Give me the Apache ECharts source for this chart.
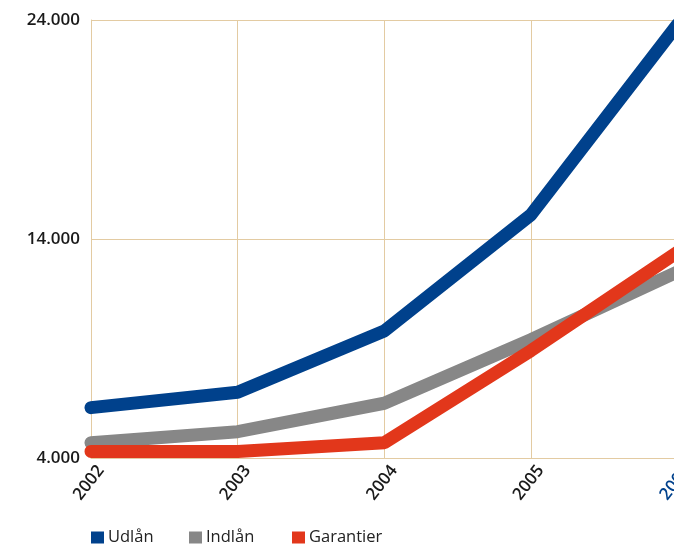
<!DOCTYPE html>
<html>
<head>
<meta charset="utf-8">
<script src="https://cdn.jsdelivr.net/npm/echarts@6/dist/echarts.min.js"></script>
<style>
html,body{margin:0;padding:0;background:#fff;overflow:hidden;width:674px;height:548px;}
#chart{width:678px;height:548px;}
</style>
</head>
<body>
<div id="chart"></div>
<script>
var categories = ['2002', '2003', '2004', '2005', '2006'];
var udlan = [6300, 7000, 9800, 15100, 23800];
var indlan = [4700, 5200, 6500, 9400, 12500];
var garantier = [4300, 4300, 4700, 8900, 13400];
var seriesNames = ['Udlån', 'Indlån', 'Garantier'];
var yTicks = [4000, 14000, 24000];

var BLUE = '#00418c', GRAY = '#878787', RED = '#e2371b', GRID = '#e3cba2';
var FONT = '"Open Sans", sans-serif';

var chart = echarts.init(document.getElementById('chart'), null, {renderer: 'canvas'});

function legendFor(name, left) {
  return {
    left: left, top: 529, padding: 0, data: [name], icon: 'rect',
    itemWidth: 13, itemHeight: 12, selectedMode: false,
    textStyle: {fontFamily: FONT, fontSize: 16.5, color: '#222', padding: [0, 0, 0, -1]}
  };
}

chart.setOption({
  animation: false,
  backgroundColor: '#fff',
  grid: {left: 91, top: 20, bottom: 90, right: 0.5, containLabel: false, outerBoundsMode: 'none'},
  legend: [legendFor(seriesNames[0], 91), legendFor(seriesNames[1], 189), legendFor(seriesNames[2], 292)],
  xAxis: {
    type: 'category', data: categories, boundaryGap: false,
    axisLine: {show: true, lineStyle: {color: GRID, width: 1}},
    axisTick: {show: false},
    splitLine: {show: true, lineStyle: {color: GRID, width: 1}},
    axisLabel: {
      rotate: 52, margin: 22, fontFamily: FONT, fontSize: 17, fontWeight: 600,
      padding: [0, -16, 0, 0],
      color: function (v) { return v === '2006' ? BLUE : '#1a1a1a'; }
    }
  },
  yAxis: {
    type: 'value', min: yTicks[0], max: yTicks[yTicks.length - 1], interval: yTicks[1] - yTicks[0],
    axisLine: {show: true, lineStyle: {color: GRID, width: 1}},
    axisTick: {show: false},
    splitLine: {show: true, lineStyle: {color: GRID, width: 1}},
    axisLabel: {
      margin: 11, fontFamily: FONT, fontSize: 17, fontWeight: 600, color: '#1a1a1a',
      formatter: function (v) { return (v / 1000).toFixed(3); }
    }
  },
  series: [
    {name: seriesNames[0], type: 'line', data: udlan, showSymbol: false, symbol: 'none', color: BLUE,
     lineStyle: {width: 13, color: BLUE, cap: 'round'}},
    {name: seriesNames[1], type: 'line', data: indlan, showSymbol: false, symbol: 'none', color: GRAY,
     lineStyle: {width: 13, color: GRAY, cap: 'round'}},
    {name: seriesNames[2], type: 'line', data: garantier, showSymbol: false, symbol: 'none', color: RED,
     lineStyle: {width: 13, color: RED, cap: 'round'}}
  ]
});
</script>
</body>
</html>
